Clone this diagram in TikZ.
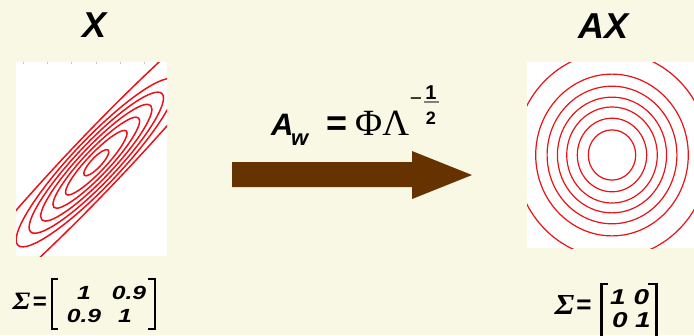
\documentclass[tikz,border=0pt]{standalone}
\usepackage{fontspec}
\setmainfont{Liberation Sans}
\newfontfamily\seriffont{Liberation Serif}
\definecolor{bg}{RGB}{248,248,228}
\definecolor{brownarrow}{RGB}{102,51,0}
\definecolor{contour}{RGB}{232,18,24}
\tikzset{
 ttl/.style={inner sep=0pt, font=\bfseries\itshape\fontsize{36}{40}\selectfont},
 ent/.style={inner sep=0pt, font=\bfseries\itshape\fontsize{19}{21}\selectfont},
 entR/.style={inner sep=0pt, font=\bfseries\itshape\fontsize{21.5}{24}\selectfont},
 sigL/.style={inner sep=0pt, font=\seriffont\bfseries\itshape\fontsize{25}{28}\selectfont},
 sigR/.style={inner sep=0pt, font=\seriffont\bfseries\itshape\fontsize{29}{32}\selectfont},
 brk/.style={line width=2.6pt, line cap=butt, line join=miter},
 contL/.style={draw=contour, line width=1.5pt},
 contR/.style={draw=contour, line width=1.2pt},
}
\begin{document}
\begin{tikzpicture}[x=1pt,y=-1pt]
\useasboundingbox (0,0) rectangle (694,335);
\clip (0,0) rectangle (694,335);
\fill[bg] (0,0) rectangle (694,335);

% titles
\node[ttl] (tX) at (94.5,25.5) {X};
\node[ttl] (tAX) at (604,26.5) {AX};

% left plot
\fill[white] (16,62) rectangle (167,256);
\foreach \x in {23.3,47.3,71.7,96,120,144.5}
  \draw[gray!45, line width=0.6pt] (\x,62) -- (\x,63.6);
\begin{scope}
  \clip (16,62) rectangle (167,256);
  \foreach \a/\b in {17/5, 42.6/9, 60/12.5, 77/16, 93/19.5, 111/23, 240/26.5}
    \draw[contL, shift={(96.3,162.7)}, yscale=1.05, rotate=45] (0,0) ellipse [x radius=\a pt, y radius=\b pt];
\end{scope}

% right plot
\fill[white] (527,62) rectangle (694,248);
\begin{scope}
  \clip (527,62) rectangle (694,248);
  \foreach \r in {23.7,34.7,45.3,54.6,64.9,76.3,97}
    \draw[contR, shift={(612,155)}, yscale=1.06] (0,0) circle [radius=\r pt];
\end{scope}

% formula
\node[anchor=base west, inner sep=0pt, font=\bfseries\itshape\fontsize{31}{34}\selectfont] (fA) at (271,135) {A};
\node[anchor=base west, inner sep=0pt, font=\bfseries\itshape\fontsize{22}{24}\selectfont] (fw) at (291,145) {w};
\node[inner sep=0pt, font=\bfseries\fontsize{36}{40}\selectfont] (feq) at (337.5,126) {=};
\node[anchor=base west, inner sep=0pt, font=\seriffont\fontsize{37}{42}\selectfont] (fPL) at (355,135) {ΦΛ};
\node[inner sep=0pt, font=\fontsize{21}{22}\selectfont] (fminus) at (416,102) {−};
\node[inner sep=0pt, font=\bfseries\fontsize{20}{22}\selectfont] (fone) at (431,92.5) {1};
\node[inner sep=0pt, font=\bfseries\fontsize{18}{20}\selectfont] (ftwo) at (431,118.5) {2};
\draw[gray, line width=1.3pt] (424,102) -- (439,102);

% arrow
\fill[brownarrow] (232,162) -- (412,162) -- (412,151) -- (472,175) -- (412,199) -- (412,187) -- (232,187) -- cycle;

% left matrix
\node[sigL] (sL) at (21.5,301.5) {\scalebox{1.15}[1]{Σ}};
\node[inner sep=0pt, font=\bfseries\fontsize{24}{26}\selectfont] (eL) at (40,303.5) {=};
\draw[brk] (58,279) -| (52,329) -- (58,329);
\draw[brk] (148,279) -| (155,329) -- (148,329);
\node[ent] (l11) at (84,293) {\scalebox{1.3}[1]{1}};
\node[ent] (l12) at (129,293) {\scalebox{1.3}[1]{0.9}};
\node[ent] (l21) at (84,316.3) {\scalebox{1.3}[1]{0.9}};
\node[ent] (l22) at (125,316.3) {\scalebox{1.3}[1]{1}};

% right matrix
\node[sigR] (sR) at (564.5,305) {\scalebox{1.1}[1]{Σ}};
\node[inner sep=0pt, font=\bfseries\fontsize{26}{28}\selectfont] (eR) at (584,307) {=};
\draw[brk] (608,284) -| (601.5,345);
\draw[brk] (648,284) -| (656.5,345);
\node[entR] (r11) at (618,297.5) {\scalebox{1.3}[1]{1}};
\node[entR] (r12) at (641.5,297.5) {\scalebox{1.3}[1]{0}};
\node[entR] (r21) at (620,320) {\scalebox{1.3}[1]{0}};
\node[entR] (r22) at (643,320) {\scalebox{1.3}[1]{1}};
\end{tikzpicture}
\end{document}
